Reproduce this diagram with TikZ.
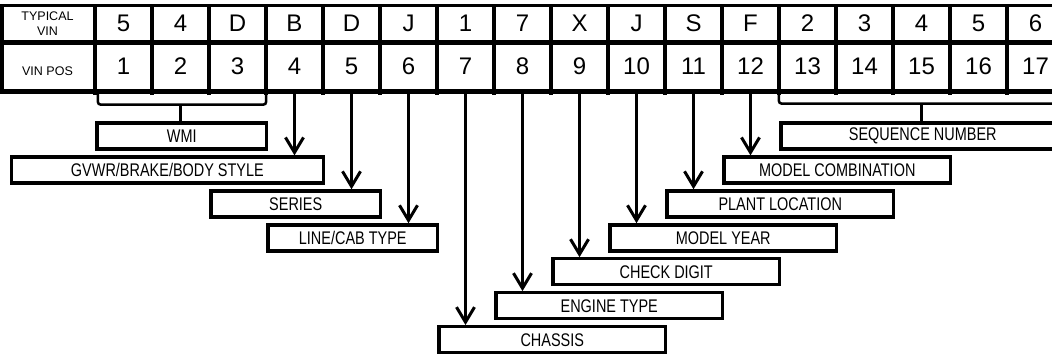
\documentclass[tikz,border=0pt]{standalone}
\usepackage{fontspec}
\setmainfont{Liberation Sans}
\newfontfamily\narrowfont{Liberation Sans}[FakeStretch=0.79]
\usetikzlibrary{arrows.meta,calc}
\begin{document}
\begin{tikzpicture}[x=1pt,y=-1pt,
  cell/.style={minimum width=57pt, inner sep=0pt, font=\fontsize{24}{28}\selectfont},
  toprow/.style={cell, minimum height=37pt},
  botrow/.style={cell, minimum height=49pt},
  hdr/.style={inner sep=0pt, align=center, font=\fontsize{12.5}{14.3}\selectfont},
  lbox/.style={draw, line width=3.3pt, inner sep=0pt, minimum height=26pt, font=\narrowfont\fontsize{18.3}{21}\selectfont},
  arr/.style={line width=2.5pt, -{Straight Barb[length=15pt,width=18pt,line width=3pt]}},
  brk/.style={line width=2.5pt, rounded corners=3pt},
  brkc/.style={line width=2.5pt}
]
\useasboundingbox (0,0) rectangle (1052,354);
\clip (0,0) rectangle (1052,354);

% table cells
\foreach \ch [count=\k] in {5,4,D,B,D,J,1,7,X,J,S,F,2,3,4,5,6} {
  \node[toprow] (t\k) at ({95+57*\k-28.5},23.5) {\ch};
  \node[botrow] (p\k) at ({95+57*\k-28.5},66.5) {\k};
}
\node[hdr] (hv) at (47.5,23.5) {TYPICAL\\VIN};
\node[hdr, anchor=base] (hp) at (47.5,75.5) {VIN POS};

% grid lines
\draw[line width=3.4pt] (0,5.5) -- (1070,5.5);
\draw[line width=5pt] (0,42.5) -- (1070,42.5);
\draw[line width=4.5pt] (0,91.5) -- (1070,91.5);
\draw[line width=4pt] (2,4) -- (2,93.5);
\foreach \k in {0,...,17} {
  \draw[line width=4pt] ({95+57*\k},4) -- ({95+57*\k},94.5);
}

% label boxes
\node[lbox, minimum width=169.5pt] (wmi)    at (181.75,136)   {WMI};
\node[lbox, minimum width=283.5pt] (seq)    at (922.75,136)   {SEQUENCE NUMBER};
\node[lbox, minimum width=312.2pt] (gvwr)   at (167.4,170)    {GVWR/BRAKE/BODY STYLE};
\node[lbox, minimum width=226.5pt] (comb)   at (837.25,170)   {MODEL COMBINATION};
\node[lbox, minimum width=169.5pt] (series) at (295.75,203.9) {SERIES};
\node[lbox, minimum width=226.5pt] (plant)  at (780.25,203.9) {PLANT LOCATION};
\node[lbox, minimum width=169.5pt] (cab)    at (352.75,237.85){LINE/CAB TYPE};
\node[lbox, minimum width=226.5pt] (year)   at (723.25,237.85){MODEL YEAR};
\node[lbox, minimum width=226.5pt] (check)  at (666.25,271.8) {CHECK DIGIT};
\node[lbox, minimum width=226.5pt] (engine) at (609.25,305.75){ENGINE TYPE};
\node[lbox, minimum width=226.5pt] (chassis)at (552.25,339.7) {CHASSIS};

% arrows
\draw[arr] (p4.south)  -- (p4.south  |- gvwr.north);
\draw[arr] (p5.south)  -- (p5.south  |- series.north);
\draw[arr] (p6.south)  -- (p6.south  |- cab.north);
\draw[arr] (p7.south)  -- (p7.south  |- chassis.north);
\draw[arr] (p8.south)  -- (p8.south  |- engine.north);
\draw[arr] (p9.south)  -- (p9.south  |- check.north);
\draw[arr] (p10.south) -- (p10.south |- year.north);
\draw[arr] (p11.south) -- (p11.south |- plant.north);
\draw[arr] (p12.south) -- (p12.south |- comb.north);

% brackets
\draw[brk] ($(p1.south west)+(3,3)$) |- ($(p3.south east)+(0,13.5)$) -- ($(p3.south east)+(0,3)$);
\coordinate (wmimid) at ($(p1.south west)!.5!(p3.south east)+(0,13.5)$);
\draw[brkc] (wmimid) -- (wmimid |- wmi.north);
\draw[brk] ($(p13.south west)+(0,3)$) |- ($(p17.south east)+(20,12.5)$);
\coordinate (seqmid) at ($(p13.south west)!.5!(p17.south east)+(0,12.5)$);
\draw[brkc] (seqmid) -- (seqmid |- seq.north);
\end{tikzpicture}
\end{document}
